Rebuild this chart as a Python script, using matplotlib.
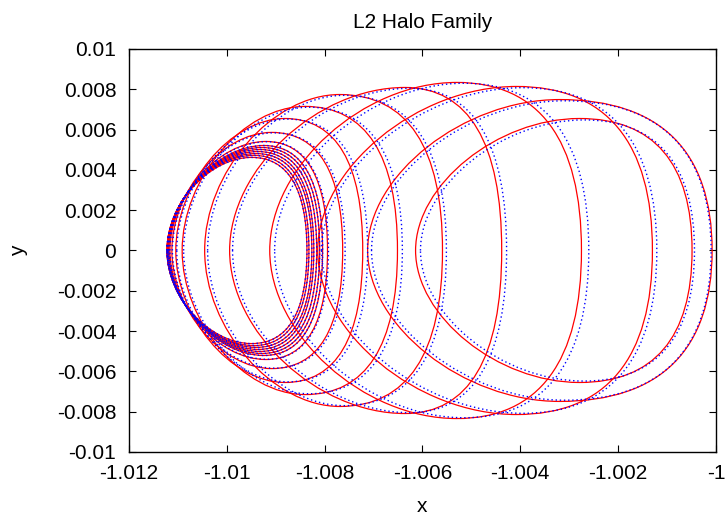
import numpy as np
import matplotlib
matplotlib.use("Agg")
import matplotlib.pyplot as plt
import matplotlib.ticker as ticker
from matplotlib.path import Path
from matplotlib.patches import PathPatch

# L2 halo family, x-y projection
# each orbit: leftmost x, rightmost x, x at the top, top y (symmetric about y=0)
red_left = [-1.01122, -1.01122, -1.01122, -1.01121, -1.01120, -1.01119, -1.01118, -1.01116, -1.01112,
            -1.01104, -1.01091, -1.01045, -1.00994, -1.00912, -1.00814, -1.00712, -1.00614]
red_right = [-1.00836, -1.00832, -1.00826, -1.00822, -1.00816, -1.00810, -1.00804, -1.00794, -1.00763,
             -1.00722, -1.00651, -1.00559, -1.00438, -1.00275, -1.00130, -1.00008, -1.00049]
red_top_x = [-1.00949, -1.00945, -1.00940, -1.00936, -1.00932, -1.00928, -1.00924, -1.00920, -1.00908,
             -1.00881, -1.00840, -1.00769, -1.00636, -1.00530, -1.00408, -1.00320, -1.00279]
red_top_y = [0.00462, 0.00472, 0.00481, 0.00491, 0.00501, 0.00511, 0.00521, 0.00541, 0.00586,
             0.00655, 0.00715, 0.00774, 0.00809, 0.00834, 0.00814, 0.00749, 0.00655]

blue_left = [-1.01122, -1.01122, -1.01122, -1.01121, -1.01120, -1.01119, -1.01118, -1.01116, -1.01111,
             -1.01102, -1.01088, -1.01039, -1.00988, -1.00902, -1.00806, -1.00704, -1.00604]
blue_right = [-1.00836, -1.00832, -1.00826, -1.00822, -1.00816, -1.00810, -1.00804, -1.00792, -1.00758,
              -1.00712, -1.00641, -1.00551, -1.00428, -1.00260, -1.00121, -1.00010, -1.00044]
blue_top_x = [-1.00949, -1.00945, -1.00940, -1.00936, -1.00932, -1.00928, -1.00924, -1.00918, -1.00904,
              -1.00875, -1.00832, -1.00760, -1.00625, -1.00515, -1.00395, -1.00310, -1.00270]
blue_top_y = [0.00462, 0.00472, 0.00481, 0.00491, 0.00501, 0.00511, 0.00521, 0.00540, 0.00584,
              0.00652, 0.00711, 0.00770, 0.00805, 0.00830, 0.00808, 0.00743, 0.00648]

x_ticks = [-1.012, -1.01, -1.008, -1.006, -1.004, -1.002, -1.0]
y_ticks = [-0.01, -0.008, -0.006, -0.004, -0.002, 0.0, 0.002, 0.004, 0.006, 0.008, 0.01]

K_LEFT = 0.50   # bezier handle for the far side (pointed nose)
K_RIGHT = 0.66  # bezier handle for the near side (squarer)


def orbit_path(xl, xr, tx, ty):
    a1 = tx - xl
    a2 = xr - tx
    verts = [
        (xl, 0), (xl, K_LEFT * ty), (tx - K_LEFT * a1, ty), (tx, ty),
        (tx + K_RIGHT * a2, ty), (xr, K_RIGHT * ty), (xr, 0),
        (xr, -K_RIGHT * ty), (tx + K_RIGHT * a2, -ty), (tx, -ty),
        (tx - K_LEFT * a1, -ty), (xl, -K_LEFT * ty), (xl, 0),
    ]
    codes = [Path.MOVETO] + [Path.CURVE4] * 12
    return Path(verts, codes)


plt.rcParams['font.family'] = ['Liberation Sans', 'DejaVu Sans']

fig = plt.figure(figsize=(7.27, 5.19), dpi=100)
ax = fig.add_axes([0.1772, 0.1291, 0.8077, 0.7765])

for i in range(len(red_left)):
    p = orbit_path(red_left[i], red_right[i], red_top_x[i], red_top_y[i])
    ax.add_patch(PathPatch(p, fill=False, edgecolor='#ff0000', lw=0.9, zorder=2))
for i in range(len(blue_left)):
    p = orbit_path(blue_left[i], blue_right[i], blue_top_x[i], blue_top_y[i])
    ax.add_patch(PathPatch(p, fill=False, edgecolor='#0000ff', lw=1.0,
                           linestyle=(0, (1, 2)), zorder=3))

ax.set_xlim(-1.012, -1.0)
ax.set_ylim(-0.01, 0.01)
ax.set_xticks(x_ticks)
ax.set_yticks(y_ticks)
fmt = ticker.FuncFormatter(lambda v, pos: '%g' % round(v, 6))
ax.xaxis.set_major_formatter(fmt)
ax.yaxis.set_major_formatter(fmt)
ax.tick_params(direction='in', length=5, width=0.8, top=True, right=True,
               labelsize=15, pad=9, colors='black')
for s in ax.spines.values():
    s.set_linewidth(1.0)

ax.set_title('L2 Halo Family', fontsize=15, pad=15)
ax.set_xlabel('x', fontsize=15, labelpad=10)
ax.set_ylabel('y', fontsize=15, labelpad=21)

fig.savefig('out.png', dpi=100)
